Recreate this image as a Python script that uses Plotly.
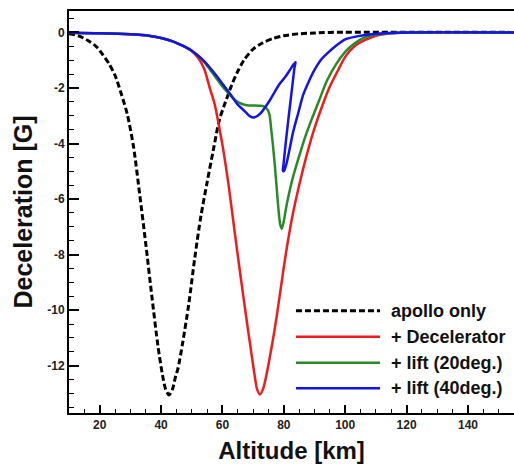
import plotly.graph_objects as go

# ---- data (altitude km, deceleration G) ----
apollo_alt = [10, 13, 16, 19, 21, 23, 25, 27, 29, 31, 33, 35, 37, 39, 40.5, 41.5, 42.6, 43.7, 44.7,
              45.5, 47, 49, 51, 53, 55, 57, 59, 61, 63, 65, 67, 70, 73, 76.5, 80, 85, 90, 95, 155]
apollo_dec = [-0.05, -0.12, -0.28, -0.52, -0.8, -1.12, -1.55, -2.2, -2.95, -4.1, -5.8, -7.6, -9.5, -11.3,
              -12.35, -12.85, -13.05, -12.85, -12.4, -12.1, -11.2, -9.8, -8.1, -6.6, -5.4, -4.25, -3.15,
              -2.5, -1.9, -1.4, -1.0, -0.6, -0.38, -0.22, -0.12, -0.05, -0.02, 0.0, 0.0]

decel_alt = [10, 20, 30, 36, 40, 44, 47, 50, 52, 54, 56, 57.5, 58.5, 60, 62, 64, 66, 68, 69.5, 70.5,
             71.3, 72.2, 73.2, 74.2, 75.5, 77, 78.5, 80, 81.5, 83, 85, 87.5, 90, 92.5, 95, 97.5, 100,
             103, 106, 110, 115, 120, 155]
decel_dec = [-0.01, -0.03, -0.07, -0.12, -0.2, -0.33, -0.48, -0.68, -0.9, -1.3, -2.05, -2.6, -3.15,
             -4.05, -5.5, -7.2, -8.85, -10.45, -11.6, -12.35, -12.85, -13.03, -12.85, -12.4, -11.65,
             -10.7, -9.6, -8.45, -7.4, -6.5, -5.5, -4.4, -3.45, -2.65, -1.95, -1.4, -0.88, -0.5, -0.3,
             -0.12, -0.03, 0.0, 0.0]

lift20_alt = [10, 20, 30, 36, 40, 44, 47, 50, 52, 54, 56, 58, 60, 62, 64, 66, 68, 70, 72, 73.5, 74.5,
              75.3, 75.9, 76.4, 77, 77.6, 78.2, 78.8, 79.3, 79.9, 80.6, 81.5, 83, 85, 87, 89, 91.5, 94,
              97, 100, 103, 106, 110, 115, 120, 155]
lift20_dec = [-0.01, -0.03, -0.07, -0.12, -0.2, -0.33, -0.48, -0.66, -0.83, -1.05, -1.35, -1.65, -1.95,
              -2.2, -2.42, -2.56, -2.62, -2.63, -2.64, -2.66, -2.75, -2.95, -3.5, -4.0, -4.7, -5.5, -6.3,
              -6.9, -7.07, -6.85, -6.4, -5.9, -5.2, -4.45, -3.75, -3.15, -2.45, -1.75, -1.15, -0.7, -0.4,
              -0.2, -0.08, -0.02, 0.0, 0.0]

# trajectory order (high altitude -> low altitude), includes the skip
lift40_alt = [155, 120, 115, 110, 105, 100, 97, 94.5, 92, 90, 88, 86.3, 84.7, 83, 81.8, 80.8, 80, 79.7,
              79.9, 80.5, 81.3, 82.1, 82.9, 83.5, 83.8, 83.2, 82, 80.5, 78.6, 77, 75.4, 74, 72.7, 71.5,
              70.2, 69, 67.8, 66.7, 65, 62.5, 60, 58, 56, 54, 52, 50, 47, 44, 40, 36, 30, 20, 10]
lift40_dec = [0.0, 0.0, -0.02, -0.05, -0.12, -0.25, -0.48, -0.72, -1.0, -1.35, -1.8, -2.25, -2.9, -3.6,
              -4.25, -4.75, -5.0, -4.97, -4.75, -4.1, -3.3, -2.55, -1.8, -1.25, -1.07, -1.15, -1.35,
              -1.6, -1.86, -2.15, -2.45, -2.68, -2.88, -3.0, -3.06, -3.02, -2.9, -2.78, -2.6, -2.22,
              -1.85, -1.55, -1.28, -1.03, -0.83, -0.66, -0.48, -0.33, -0.2, -0.12, -0.07, -0.03, -0.01]

series_names = ["apollo only", "+ Decelerator", "+ lift (20deg.)", "+ lift (40deg.)"]
series_colors = ["#000000", "#ee1c1c", "#2a8a2a", "#1414e6"]

x_tickvals = [20, 40, 60, 80, 100, 120, 140]
x_ticktext = ["20", "40", "60", "80", "100", "120", "140"]
y_tickvals = [0, -2, -4, -6, -8, -10, -12]
y_ticktext = ["0", "-2", "-4", "-6", "-8", "-10", "-12"]

FONT = "Liberation Sans, Arial, sans-serif"

fig = go.Figure()
data = [(apollo_alt, apollo_dec), (decel_alt, decel_dec), (lift20_alt, lift20_dec), (lift40_alt, lift40_dec)]
for i, (xs, ys) in enumerate(data):
    fig.add_trace(go.Scatter(
        x=xs, y=ys, mode="lines", name=series_names[i],
        line=dict(color=series_colors[i], width=3 if i == 0 else 2.5,
                  dash="6px,3px" if i == 0 else "solid", shape="spline", smoothing=0.8),
        showlegend=False,
    ))

# manual legend (long line samples like the original)
rows_y = [0.2545, 0.1898, 0.1251, 0.0614]
for i, name in enumerate(series_names):
    fig.add_shape(type="line", xref="paper", yref="paper", x0=0.510, x1=0.699, y0=rows_y[i], y1=rows_y[i],
                  line=dict(color=series_colors[i], width=3 if i == 0 else 2.5,
                            dash="6px,3px" if i == 0 else "solid"))
    fig.add_annotation(xref="paper", yref="paper", x=0.719, y=rows_y[i], text=name, showarrow=False,
                       xanchor="left", yanchor="middle",
                       font=dict(family=FONT, size=18, color="#111", weight="bold"))

axis_common = dict(
    showline=True, linecolor="black", linewidth=2, mirror=True,
    ticks="inside", tickcolor="black", tickwidth=1.5,
    showgrid=False, zeroline=False,
    tickfont=dict(family=FONT, size=12, color="#222", weight="bold"),
)

fig.update_xaxes(
    range=[10, 155], tickvals=x_tickvals, ticktext=x_ticktext, ticklen=8,
    minor=dict(ticks="inside", ticklen=4, dtick=5, tick0=0, tickcolor="black", tickwidth=1),
    title=dict(text="Altitude [km]", font=dict(family=FONT, size=24, color="#111", weight="bold"), standoff=11),
    **axis_common,
)
fig.update_yaxes(
    range=[-13.7, 0.77], tickvals=y_tickvals, ticktext=y_ticktext, ticklen=10,
    minor=dict(ticks="inside", ticklen=5, dtick=0.5, tick0=0, tickcolor="black", tickwidth=1),
    title=dict(text="Deceleration [G]", font=dict(family=FONT, size=25, color="#111", weight="bold"), standoff=8),
    **axis_common,
)

fig.update_layout(
    width=514, height=468,
    margin=dict(l=69, r=0, t=11, b=55, autoexpand=False),
    paper_bgcolor="white", plot_bgcolor="white",
    showlegend=False,
)

# remove the default 8px page margin so the figure fills the 514x468 window exactly
fig.write_html("out.html", config={"displayModeBar": False},
               post_script="document.body.style.margin='0';document.body.style.overflow='hidden';")
